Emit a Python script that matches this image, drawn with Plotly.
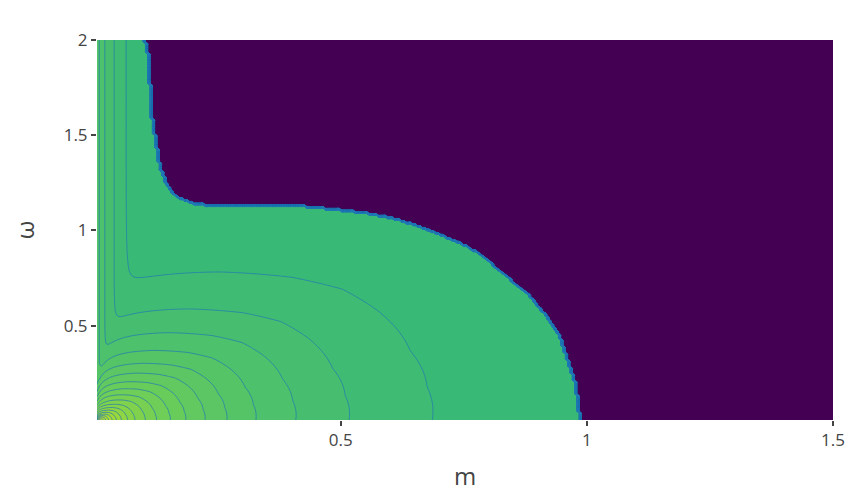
import numpy as np
import plotly.graph_objects as go

# ---------------- data ----------------
# grid extents of the computed field
m_values = np.linspace(0.005, 1.5, 320)
omega_values = np.linspace(0.005, 2.0, 220)

# edge of the dark (no-solution) region: m, omega
edge_m = [0.102, 0.110, 0.116, 0.125, 0.132, 0.138, 0.146, 0.159, 0.173, 0.193,
          0.209, 0.417, 0.498, 0.553, 0.620, 0.675, 0.728, 0.768, 0.797, 0.837,
          0.878, 0.919, 0.945, 0.959, 0.976, 0.986, 0.990]
edge_omega = [2.00, 1.906, 1.607, 1.46, 1.355, 1.30, 1.25, 1.198, 1.171, 1.15,
              1.135, 1.129, 1.108, 1.091, 1.056, 1.003, 0.951, 0.899, 0.846, 0.757,
              0.673, 0.547, 0.442, 0.337, 0.201, 0.023, 0.0]

# where the contour lines cross the omega = 0 axis (outermost first) and their level index
axis_crossings = [1.05, 0.687, 0.518, 0.41, 0.329, 0.27, 0.226, 0.187, 0.156, 0.128, 0.106, 0.085]
axis_levels = [-1, 0, 1, 2, 3, 4, 5, 6, 7, 8, 9, 10]

# vertical contour lines near m = 0 at the top of the plot (level index 0..3)
top_crossings = [0.064, 0.040, 0.021, 0.0095]
top_levels = [0, 1, 2, 3]

# shape of a contour around the origin: relative radius vs angle (deg)
shape_theta = [0, 15, 30, 45, 54, 62, 72, 80, 90]
shape_r = [1.0, 1.02, 1.08, 1.19, 1.25, 1.25, 1.21, 1.16, 1.10]

# drop of the levels next to the m = 0 edge (strength, m scale, power)
edge_drop = [0.95, 0.03, 1.5]

x_ticks = [0.5, 1, 1.5]
y_ticks = [0.5, 1, 1.5, 2]

# ---------------- field construction ----------------
M, W = np.meshgrid(np.array(m_values), np.array(omega_values))
rho = np.sqrt(M**2 + W**2)
theta = np.degrees(np.arctan2(W, M))
rel = rho / np.interp(theta, shape_theta, shape_r)

la = np.log(np.array(axis_crossings)[::-1])
lv = np.array(axis_levels, dtype=float)[::-1]
lx = np.log(rel)
kB = np.interp(lx, la, lv)
kB = np.where(lx < la[0], lv[0] + (la[0] - lx) / np.log(1.21), kB)
kB = np.where(lx > la[-1], lv[-1] - (lx - la[-1]) / np.log(1.4), kB)
kB = kB - edge_drop[0] * np.log1p((edge_drop[1] / M) ** edge_drop[2])

lt = np.log(np.array(top_crossings)[::-1])
tv = np.array(top_levels, dtype=float)[::-1]
lm = np.log(M)
kA = np.interp(lm, lt, tv)
kA = np.where(lm < lt[0], tv[0] + (lt[0] - lm) / np.log(2.5), kA)
kA = np.where(lm > lt[-1], tv[-1] - (lm - lt[-1]) / np.log(1.65), kA)

s = 3.0
k = np.logaddexp(s * kA, s * kB) / s
k = np.maximum(k, -0.95)

edge = np.interp(M, edge_m, edge_omega, left=np.inf, right=-1.0)
inside = W < edge
Z = np.where(inside, 52.5 + k, 0.0)

fig = go.Figure(go.Contour(
    x=m_values, y=omega_values, z=Z,
    colorscale="Viridis",
    showscale=False,
    autocontour=False,
    contours=dict(start=0.5, end=76.5, size=1, coloring="fill", showlines=True),
    line=dict(color="#1f77b4", width=0.7),
    hoverinfo="skip",
))

fig.update_layout(
    width=850, height=484,
    template="plotly_white",
    margin=dict(l=89, r=25, t=32, b=72),
    font=dict(family="Open Sans, Verdana, sans-serif", color="#444"),
    paper_bgcolor="white", plot_bgcolor="white",
)
fig.update_xaxes(
    title=dict(text="m", font=dict(size=24, color="#444"), standoff=18),
    automargin=False,
    tickvals=x_ticks, ticks="outside", ticklen=5, tickcolor="#444", tickwidth=2,
    tickfont=dict(size=17, color="#444"), showgrid=False, zeroline=False, showline=False,
)
fig.update_yaxes(
    title=dict(text="ω", font=dict(size=24, color="#444"), standoff=26),
    automargin=False,
    tickvals=y_ticks, ticks="outside", ticklen=5, tickcolor="#444", tickwidth=2,
    tickfont=dict(size=17, color="#444"), showgrid=False, zeroline=False, showline=False,
)

fig.write_html("out.html")
